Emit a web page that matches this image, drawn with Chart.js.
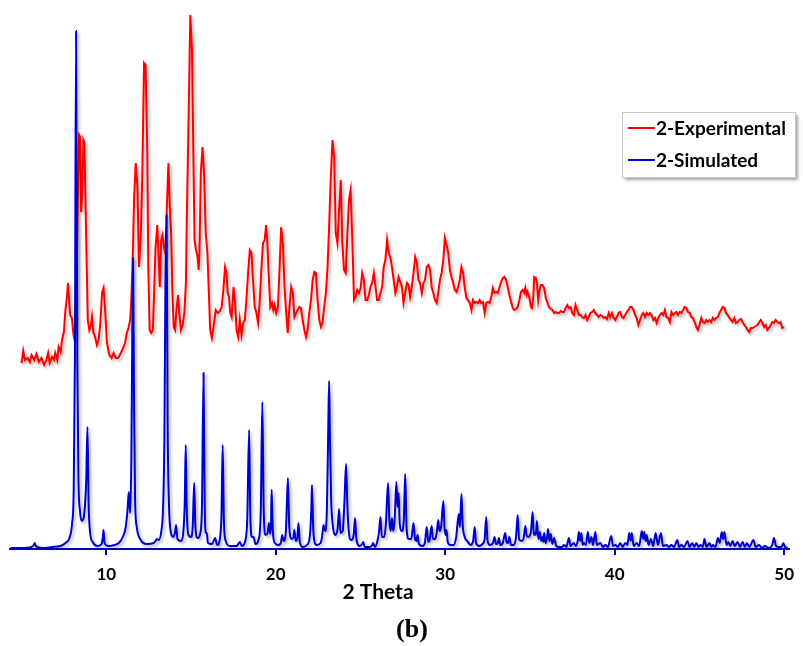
<!DOCTYPE html>
<html>
<head>
<meta charset="utf-8">
<script src="https://cdn.jsdelivr.net/npm/chart.js@4.4.1/dist/chart.umd.min.js"></script>
<style>
  html, body { margin: 0; background: #fff; }
</style>
</head>
<body>
<canvas id="xrdChart" width="803" height="646"></canvas>
<script>
// 2-Experimental (red)
const expTheta = [
  5.00, 5.10, 5.20, 5.36, 5.49, 5.59, 5.75, 5.88, 6.02, 6.18,
  6.33, 6.47, 6.57, 6.66, 6.80, 6.92, 6.99, 7.11, 7.19, 7.31,
  7.39, 7.50, 7.58, 7.68, 7.74, 7.80, 7.87, 7.97, 8.07, 8.13,
  8.19, 8.32, 8.40, 8.46, 8.52, 8.58, 8.65, 8.71, 8.81, 8.91,
  9.00, 9.10, 9.16, 9.24, 9.34, 9.45, 9.55, 9.65, 9.75, 9.84,
  9.94, 10.04, 10.18, 10.31, 10.43, 10.57, 10.70, 10.86, 11.02, 11.11,
  11.21, 11.31, 11.41, 11.48, 11.58, 11.64, 11.74, 11.84, 11.93, 12.03,
  12.13, 12.23, 12.32, 12.42, 12.48, 12.56, 12.65, 12.75, 12.81, 12.91,
  13.01, 13.08, 13.16, 13.24, 13.32, 13.40, 13.49, 13.59, 13.67, 13.75,
  13.83, 13.90, 13.98, 14.06, 14.14, 14.24, 14.31, 14.41, 14.51, 14.61,
  14.70, 14.76, 14.86, 14.96, 15.06, 15.15, 15.21, 15.29, 15.39, 15.45,
  15.50, 15.58, 15.68, 15.78, 15.87, 15.97, 16.07, 16.13, 16.23, 16.32,
  16.46, 16.58, 16.71, 16.81, 16.91, 17.01, 17.10, 17.16, 17.24, 17.32,
  17.40, 17.51, 17.59, 17.69, 17.79, 17.88, 17.98, 18.08, 18.18, 18.27,
  18.37, 18.47, 18.57, 18.66, 18.76, 18.86, 18.96, 19.05, 19.15, 19.25,
  19.35, 19.43, 19.50, 19.58, 19.68, 19.78, 19.86, 19.93, 20.03, 20.13,
  20.23, 20.32, 20.42, 20.52, 20.62, 20.71, 20.81, 20.91, 21.01, 21.10,
  21.20, 21.30, 21.40, 21.49, 21.59, 21.69, 21.79, 21.88, 21.98, 22.08,
  22.18, 22.28, 22.37, 22.47, 22.57, 22.67, 22.76, 22.86, 22.96, 23.06,
  23.15, 23.25, 23.35, 23.45, 23.54, 23.64, 23.74, 23.84, 23.93, 24.03,
  24.13, 24.23, 24.32, 24.42, 24.52, 24.62, 24.71, 24.81, 24.91, 25.01,
  25.10, 25.20, 25.30, 25.40, 25.50, 25.59, 25.69, 25.79, 25.89, 25.98,
  26.08, 26.18, 26.28, 26.37, 26.47, 26.57, 26.67, 26.76, 26.86, 26.96,
  27.06, 27.15, 27.25, 27.35, 27.45, 27.54, 27.64, 27.74, 27.84, 27.93,
  28.03, 28.13, 28.23, 28.33, 28.42, 28.52, 28.62, 28.72, 28.81, 28.91,
  29.01, 29.11, 29.20, 29.30, 29.40, 29.50, 29.59, 29.69, 29.79, 29.89,
  29.98, 30.08, 30.18, 30.28, 30.37, 30.47, 30.57, 30.67, 30.76, 30.86,
  30.96, 31.06, 31.15, 31.25, 31.35, 31.45, 31.55, 31.64, 31.74, 31.84,
  31.94, 32.03, 32.13, 32.23, 32.33, 32.42, 32.52, 32.62, 32.72, 32.81,
  32.91, 33.01, 33.11, 33.21, 33.30, 33.40, 33.50, 33.60, 33.69, 33.79,
  33.89, 33.99, 34.08, 34.18, 34.28, 34.38, 34.47, 34.57, 34.67, 34.73,
  34.81, 34.86, 34.96, 35.06, 35.12, 35.20, 35.25, 35.35, 35.41, 35.49,
  35.55, 35.64, 35.74, 35.84, 35.94, 36.04, 36.13, 36.23, 36.33, 36.43,
  36.52, 36.62, 36.72, 36.82, 36.91, 37.01, 37.11, 37.21, 37.30, 37.40,
  37.50, 37.60, 37.69, 37.79, 37.89, 37.99, 38.08, 38.18, 38.28, 38.38,
  38.47, 38.57, 38.67, 38.77, 38.86, 38.96, 39.06, 39.16, 39.26, 39.35,
  39.45, 39.55, 39.65, 39.74, 39.84, 39.94, 40.04, 40.13, 40.23, 40.33,
  40.43, 40.52, 40.62, 40.72, 40.82, 40.91, 41.01, 41.11, 41.21, 41.30,
  41.40, 41.50, 41.60, 41.69, 41.79, 41.89, 41.99, 42.08, 42.18, 42.28,
  42.38, 42.48, 42.57, 42.67, 42.77, 42.87, 42.96, 43.06, 43.16, 43.26,
  43.35, 43.45, 43.55, 43.65, 43.74, 43.84, 43.94, 44.04, 44.13, 44.23,
  44.33, 44.43, 44.52, 44.62, 44.72, 44.82, 44.91, 45.01, 45.11, 45.21,
  45.31, 45.40, 45.50, 45.60, 45.70, 45.79, 45.89, 45.99, 46.09, 46.18,
  46.28, 46.38, 46.48, 46.57, 46.67, 46.77, 46.87, 46.96, 47.06, 47.16,
  47.26, 47.35, 47.45, 47.55, 47.65, 47.74, 47.84, 47.94, 48.04, 48.14,
  48.23, 48.33, 48.43, 48.53, 48.62, 48.72, 48.82, 48.92, 49.01, 49.11,
  49.21, 49.31, 49.40, 49.50, 49.60, 49.70, 49.79, 49.89, 49.99,
];
const expCounts = [
  186, 198, 189, 191, 187, 194, 189, 195, 187, 191,
  184, 189, 196, 186, 192, 189, 196, 189, 202, 197,
  209, 217, 237, 252, 266, 251, 234, 231, 214, 209,
  216, 349, 414, 412, 337, 354, 409, 406, 316, 229,
  219, 224, 232, 217, 212, 204, 209, 226, 256, 261,
  237, 206, 194, 191, 196, 191, 191, 196, 202, 206,
  216, 221, 229, 249, 302, 349, 386, 362, 282, 309,
  376, 486, 484, 399, 282, 219, 216, 219, 249, 302,
  324, 296, 262, 309, 314, 302, 296, 349, 386, 342,
  316, 259, 222, 219, 239, 254, 236, 219, 224, 236,
  266, 336, 432, 534, 499, 382, 309, 300, 292, 279,
  296, 376, 402, 372, 316, 296, 249, 219, 211, 221,
  239, 236, 238, 242, 259, 282, 276, 257, 252, 236,
  232, 262, 249, 219, 212, 229, 214, 226, 229, 249,
  276, 299, 296, 269, 242, 236, 226, 246, 279, 306,
  309, 324, 309, 276, 242, 246, 239, 244, 236, 242,
  282, 322, 306, 262, 236, 216, 242, 262, 256, 232,
  236, 239, 242, 241, 229, 219, 212, 219, 236, 249,
  269, 277, 276, 249, 229, 222, 226, 242, 256, 282,
  322, 372, 409, 392, 316, 306, 339, 369, 306, 279,
  276, 316, 349, 359, 309, 249, 252, 259, 256, 261,
  276, 269, 249, 249, 254, 262, 266, 276, 262, 249,
  249, 256, 262, 282, 289, 309, 296, 292, 282, 269,
  256, 262, 272, 267, 262, 246, 256, 266, 264, 252,
  262, 276, 292, 286, 269, 266, 256, 266, 269, 282,
  284, 279, 262, 256, 249, 246, 256, 269, 276, 289,
  311, 304, 296, 279, 272, 266, 259, 257, 262, 269,
  282, 276, 262, 251, 249, 246, 239, 249, 246, 247,
  246, 249, 246, 247, 236, 246, 247, 246, 252, 261,
  256, 257, 256, 262, 267, 271, 272, 269, 262, 254,
  247, 241, 239, 240, 242, 249, 257, 259, 256, 261,
  254, 257, 252, 242, 241, 252, 272, 271, 266, 249,
  257, 264, 264, 261, 251, 246, 242, 240, 239, 236,
  237, 236, 236, 238, 237, 237, 241, 244, 241, 242,
  236, 234, 244, 239, 234, 234, 232, 231, 234, 229,
  232, 236, 237, 239, 236, 234, 232, 234, 233, 231,
  232, 230, 236, 232, 236, 231, 229, 232, 236, 237,
  232, 231, 234, 237, 239, 242, 242, 239, 234, 231,
  224, 229, 234, 236, 232, 236, 234, 236, 234, 229,
  231, 226, 231, 234, 236, 234, 239, 232, 231, 227,
  237, 234, 236, 237, 234, 237, 236, 239, 242, 241,
  237, 236, 232, 231, 227, 222, 219, 224, 231, 227,
  226, 229, 227, 229, 227, 231, 229, 231, 232, 236,
  239, 242, 241, 236, 234, 231, 229, 227, 231, 226,
  227, 229, 230, 227, 224, 222, 219, 217, 221, 221,
  222, 223, 224, 227, 229, 226, 222, 224, 219, 221,
  224, 227, 226, 229, 227, 226, 227, 221, 222,
];

// 2-Simulated (blue)
const simTheta = [
  4.35, 5.0, 5.6, 5.72, 5.78, 5.84, 6.2, 6.8, 7.3, 7.6,
  7.85, 7.98, 8.08, 8.15, 8.22, 8.29, 8.36, 8.45, 8.55, 8.65,
  8.75, 8.82, 8.89, 8.96, 9.05, 9.2, 9.5, 9.72, 9.8, 9.84,
  9.9, 10.1, 10.5, 10.8, 11.0, 11.15, 11.25, 11.33, 11.41, 11.48,
  11.53, 11.58, 11.64, 11.7, 11.8, 12.0, 12.4, 12.8, 12.95, 13.01,
  13.1, 13.25, 13.35, 13.43, 13.49, 13.56, 13.62, 13.7, 13.8, 13.95,
  14.05, 14.12, 14.2, 14.4, 14.55, 14.63, 14.69, 14.75, 14.85, 15.0,
  15.1, 15.19, 15.26, 15.4, 15.55, 15.65, 15.74, 15.81, 15.88, 15.93,
  16.0, 16.25, 16.42, 16.55, 16.72, 16.8, 16.87, 16.94, 17.05, 17.3,
  17.7, 17.88, 18.0, 18.2, 18.32, 18.43, 18.5, 18.6, 18.7, 18.8,
  19.0, 19.12, 19.21, 19.29, 19.4, 19.52, 19.6, 19.67, 19.72, 19.76,
  19.83, 19.95, 20.15, 20.3, 20.38, 20.47, 20.6, 20.72, 20.8, 20.95,
  21.05, 21.1, 21.18, 21.28, 21.34, 21.42, 21.6, 21.85, 22.02, 22.1,
  22.14, 22.22, 22.4, 22.65, 22.75, 22.82, 22.92, 23.02, 23.1, 23.15,
  23.2, 23.27, 23.38, 23.5, 23.65, 23.74, 23.82, 23.95, 24.05, 24.15,
  24.22, 24.3, 24.45, 24.6, 24.68, 24.76, 24.95, 25.1, 25.16, 25.25,
  25.55, 25.7, 25.75, 25.85, 26.0, 26.1, 26.18, 26.26, 26.4, 26.5,
  26.63, 26.7, 26.78, 26.86, 26.93, 27.02, 27.12, 27.19, 27.25, 27.32,
  27.45, 27.56, 27.64, 27.72, 27.85, 28.0, 28.13, 28.22, 28.3, 28.37,
  28.45, 28.65, 28.8, 28.91, 29.0, 29.08, 29.2, 29.28, 29.4, 29.5,
  29.59, 29.66, 29.76, 29.89, 29.96, 30.02, 30.08, 30.15, 30.3, 30.5,
  30.65, 30.8, 30.87, 30.96, 31.03, 31.15, 31.3, 31.5, 31.65, 31.74,
  31.82, 32.0, 32.2, 32.33, 32.42, 32.5, 32.65, 32.82, 32.91, 33.0,
  33.1, 33.17, 33.25, 33.4, 33.54, 33.62, 33.7, 33.79, 33.88, 34.05,
  34.18, 34.28, 34.36, 34.5, 34.62, 34.73, 34.8, 34.9, 35.05, 35.16,
  35.23, 35.29, 35.35, 35.41, 35.5, 35.59, 35.66, 35.74, 35.79, 35.84,
  35.92, 36.0, 36.07, 36.15, 36.23, 36.32, 36.43, 36.55, 36.72, 36.9,
  37.01, 37.15, 37.3, 37.4, 37.6, 37.7, 37.82, 37.89, 37.96, 38.04,
  38.11, 38.18, 38.3, 38.42, 38.5, 38.63, 38.72, 38.86, 38.95, 39.16,
  39.3, 39.45, 39.6, 39.8, 39.9, 40.04, 40.2, 40.33, 40.47, 40.62,
  40.75, 40.86, 40.94, 41.01, 41.12, 41.3, 41.45, 41.6, 41.68, 41.75,
  41.82, 41.89, 42.0, 42.14, 42.27, 42.42, 42.55, 42.73, 42.85, 43.06,
  43.2, 43.35, 43.5, 43.7, 43.8, 43.94, 44.1, 44.29, 44.42, 44.58,
  44.7, 44.82, 44.95, 45.07, 45.2, 45.3, 45.42, 45.6, 45.7, 45.79,
  45.95, 46.09, 46.2, 46.32, 46.4, 46.48, 46.6, 46.71, 46.82, 46.96,
  47.08, 47.26, 47.4, 47.55, 47.68, 47.8, 47.95, 48.19, 48.32, 48.52,
  48.7, 48.86, 49.1, 49.3, 49.4, 49.52, 49.7, 49.85, 49.95, 50.05,
  50.2,
];
const simCounts = [
  1, 1, 2, 4, 6, 3, 1, 2, 3, 6,
  12, 25, 60, 190, 518, 190, 70, 38, 28, 30,
  45, 70, 122, 45, 16, 7, 3, 5, 12, 19,
  6, 3, 4, 7, 13, 22, 38, 57, 36, 90,
  200, 291, 150, 50, 22, 10, 5, 6, 9, 10,
  9, 18, 40, 110, 262, 334, 130, 45, 18, 12,
  16, 24, 10, 8, 18, 45, 104, 40, 14, 12,
  22, 66, 22, 11, 16, 45, 176, 45, 16, 16,
  6, 5, 11, 4, 12, 35, 104, 30, 8, 3,
  3, 7, 3, 8, 30, 119, 35, 12, 12, 5,
  10, 40, 147, 40, 14, 16, 26, 15, 25, 59,
  18, 6, 4, 6, 14, 8, 18, 71, 22, 10,
  12, 19, 8, 12, 26, 7, 2, 4, 14, 40,
  64, 18, 4, 6, 14, 24, 18, 40, 120, 168,
  111, 50, 22, 14, 20, 40, 16, 18, 45, 85,
  47, 20, 9, 14, 31, 10, 3, 5, 7, 2,
  2, 4, 6, 2, 8, 18, 32, 12, 12, 25,
  66, 30, 18, 31, 18, 30, 67, 42, 56, 25,
  18, 30, 75, 22, 10, 10, 26, 10, 8, 14,
  5, 3, 6, 22, 7, 9, 23, 10, 10, 16,
  29, 18, 22, 48, 22, 14, 19, 7, 4, 4,
  12, 35, 22, 55, 25, 12, 8, 4, 8, 22,
  6, 3, 5, 10, 32, 8, 4, 6, 12, 5,
  6, 11, 4, 6, 16, 7, 6, 12, 4, 4,
  12, 34, 10, 8, 10, 23, 14, 12, 16, 37,
  14, 16, 14, 28, 10, 17, 8, 12, 7, 16,
  6, 10, 20, 8, 15, 5, 11, 3, 2, 2,
  4, 2, 11, 3, 6, 3, 8, 17, 8, 16,
  4, 6, 4, 17, 6, 12, 4, 17, 4, 6,
  2, 4, 2, 13, 3, 4, 2, 6, 2, 6,
  4, 16, 8, 16, 3, 6, 3, 18, 10, 17,
  8, 14, 4, 10, 3, 16, 4, 16, 3, 4,
  2, 4, 2, 9, 2, 4, 2, 8, 2, 6,
  2, 6, 2, 4, 2, 10, 2, 6, 2, 4,
  2, 11, 6, 17, 10, 17, 4, 7, 3, 8,
  3, 7, 2, 7, 2, 6, 2, 9, 2, 4,
  1, 3, 1, 4, 11, 3, 2, 2, 6, 2,
  1,
];

const xTicks = [10, 20, 30, 40, 50];

const axisBlue = '#0000c8';
const expColor = '#ff0000';
const simColor = '#0000cc';

function toPoints(xs, ys) {
  return xs.map((x, i) => ({ x: x, y: ys[i] }));
}

// shadow under the lines, plus the texts and the boxed legend
const decorations = {
  id: 'decorations',
  beforeDatasetDraw(chart) {
    const ctx = chart.ctx;
    ctx.save();
    ctx.shadowColor = 'rgba(0, 0, 0, 0.3)';
    ctx.shadowBlur = 3;
    ctx.shadowOffsetX = 2;
    ctx.shadowOffsetY = 2;
  },
  afterDatasetDraw(chart) {
    chart.ctx.restore();
  },
  afterDraw(chart) {
    const ctx = chart.ctx;
    ctx.save();
    ctx.fillStyle = '#000';
    ctx.textAlign = 'center';
    ctx.textBaseline = 'middle';
    ctx.font = 'bold 21px Lato';
    ctx.fillText('2 Theta', 378, 592);
    ctx.font = 'bold 26px "Liberation Serif"';
    ctx.fillText('(b)', 412, 630);

    // legend box
    const bx = 622, by = 112, bw = 173, bh = 65;
    ctx.shadowColor = 'rgba(0, 0, 0, 0.35)';
    ctx.shadowBlur = 3;
    ctx.shadowOffsetX = 3;
    ctx.shadowOffsetY = 3;
    ctx.fillStyle = '#fff';
    ctx.fillRect(bx, by, bw, bh);
    ctx.shadowColor = 'transparent';
    ctx.strokeStyle = '#c8c8c8';
    ctx.lineWidth = 1;
    ctx.strokeRect(bx + 0.5, by + 0.5, bw, bh);

    const rows = [
      { label: chart.data.datasets[0].label, color: expColor, y: 128 },
      { label: chart.data.datasets[1].label, color: simColor, y: 160 },
    ];
    ctx.textAlign = 'left';
    ctx.font = 'bold 19px Lato';
    rows.forEach((r) => {
      ctx.strokeStyle = r.color;
      ctx.lineWidth = 2;
      ctx.beginPath();
      ctx.moveTo(628, r.y);
      ctx.lineTo(655, r.y);
      ctx.stroke();
      ctx.fillStyle = '#000';
      ctx.fillText(r.label, 656, r.y + 1);
    });
    ctx.restore();
  },
};

new Chart(document.getElementById('xrdChart'), {
  type: 'line',
  data: {
    datasets: [
      {
        label: '2-Experimental',
        data: toPoints(expTheta, expCounts),
        borderColor: expColor,
        borderWidth: 2,
        pointRadius: 0,
        tension: 0,
        order: 1,
      },
      {
        label: '2-Simulated',
        data: toPoints(simTheta, simCounts),
        borderColor: simColor,
        borderWidth: 2,
        pointRadius: 0,
        cubicInterpolationMode: 'monotone',
        order: 0,
      },
    ],
  },
  options: {
    responsive: false,
    animation: false,
    // the x scale keeps ~6px on the right for the "50" label, so right padding is small
    layout: { autoPadding: false, padding: { left: 10, right: 2, top: 5, bottom: 0 } },
    plugins: {
      legend: { display: false },
      tooltip: { enabled: false },
    },
    scales: {
      x: {
        type: 'linear',
        min: 4.32,
        max: 50.28,
        afterBuildTicks: (scale) => {
          scale.ticks = xTicks.map((v) => ({ value: v }));
        },
        afterFit: (scale) => {
          scale.height = 97;
        },
        border: { color: axisBlue, width: 2 },
        grid: {
          drawOnChartArea: false,
          drawTicks: true,
          tickLength: 6,
          color: axisBlue,
          lineWidth: 2,
        },
        ticks: {
          color: '#000',
          maxRotation: 0,
          padding: 9,
          font: { family: 'Lato', weight: 'bold', size: 17 },
        },
      },
      y: { display: false, min: 0, max: 544 },
    },
  },
  plugins: [decorations],
});
</script>
</body>
</html>
